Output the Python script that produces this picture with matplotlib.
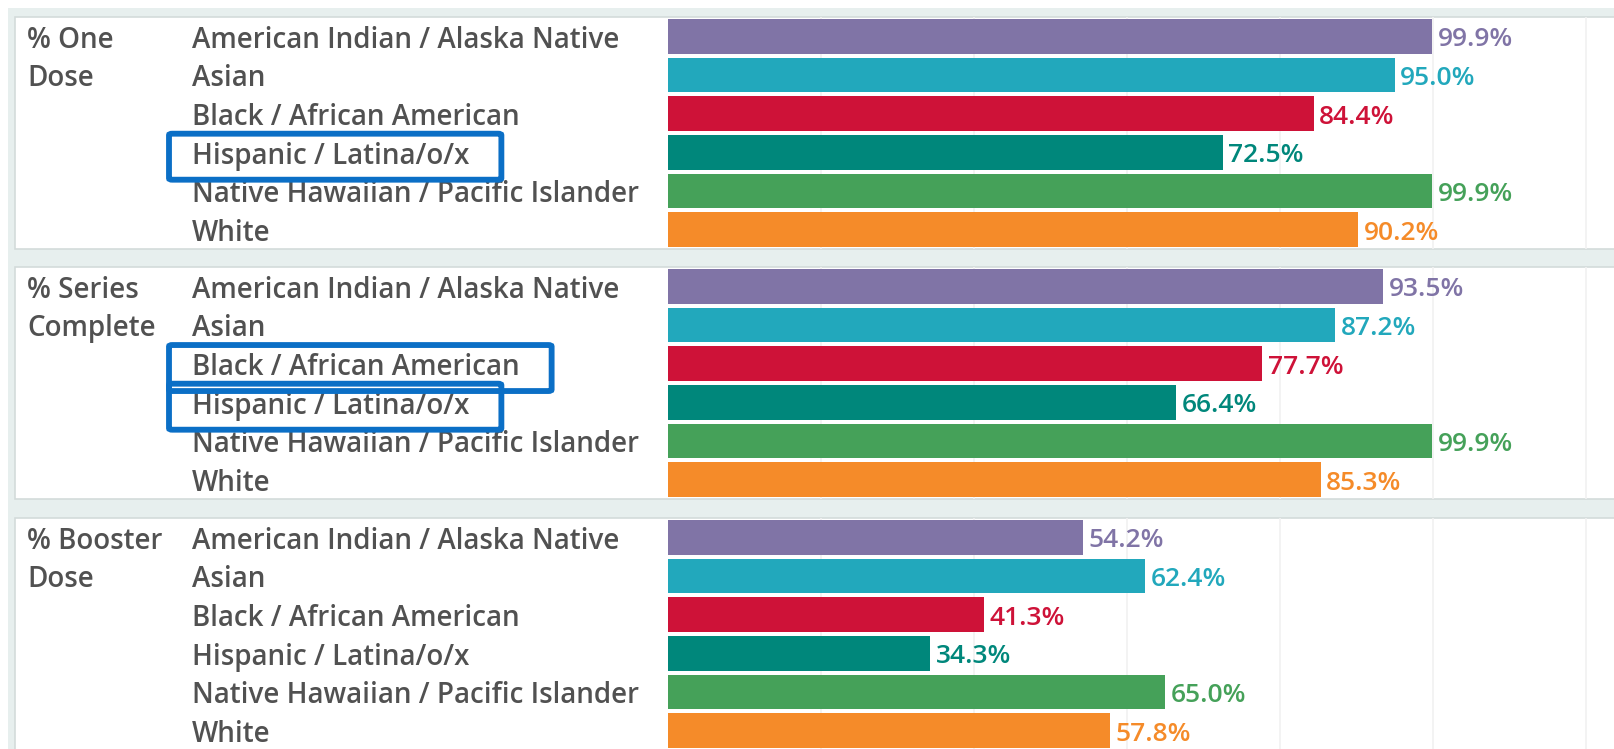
import matplotlib
matplotlib.use('Agg')
import matplotlib.pyplot as plt
from matplotlib.patches import Rectangle, FancyBboxPatch
from matplotlib import transforms

# data
groups = [['% One', 'Dose'], ['% Series', 'Complete'], ['% Booster', 'Dose']]
races = ['American Indian / Alaska Native', 'Asian', 'Black / African American',
         'Hispanic / Latina/o/x', 'Native Hawaiian / Pacific Islander', 'White']
one_dose = [99.9, 95.0, 84.4, 72.5, 99.9, 90.2]
series_complete = [93.5, 87.2, 77.7, 66.4, 99.9, 85.3]
booster_dose = [54.2, 62.4, 41.3, 34.3, 65.0, 57.8]
race_colors = ['#8074a6', '#22a8bc', '#ce1238', '#00877b', '#45a159', '#f58b29']
# rows that were highlighted with a blue box in each group
boxed = [[3], [2, 3], []]

W, H = 1615, 749
panel_tops = [17, 267, 518]
panel_h = 232
bar_left = 668
label_x = 192
header_x = 27

text_col = '#515151'
grey_bg = '#e7efee'
edge_col = '#d3dbda'
box_col = '#0b6fc6'

plt.rcParams['font.family'] = ['Open Sans', 'DejaVu Sans']


def px(x0, top, x1, bottom):
    # pixel box (y measured from the top) -> figure fraction rect
    return [x0 / W, 1 - bottom / H, (x1 - x0) / W, (bottom - top) / H]


fig = plt.figure(figsize=(W / 100, H / 100), dpi=100)
fig.patch.set_facecolor('white')

# grey frame behind the white cards
r = px(8, 8, W, H)
fig.add_artist(Rectangle((r[0], r[1]), r[2], r[3], transform=fig.transFigure,
                         facecolor=grey_bg, edgecolor='none', zorder=-3))

values = [one_dose, series_complete, booster_dose]
axes = []
for p, (top, vals) in enumerate(zip(panel_tops, values)):
    c = px(15, top, W + 5, top + panel_h)
    fig.add_artist(Rectangle((c[0], c[1]), c[2], c[3], transform=fig.transFigure,
                             facecolor='white', edgecolor=edge_col, lw=1.2, zorder=-2))

    ax = fig.add_axes(px(bar_left, top, W, top + panel_h))
    ax.set_facecolor('none')
    ypos = list(range(len(races)))
    ax.barh(ypos, vals, height=0.9, color=race_colors, zorder=2)
    ax.set_ylim(len(races) - 0.5, -0.5)
    ax.set_xlim(0, (W - bar_left) / 7.65)
    ax.set_xticks([20, 40, 60, 80, 100, 120])
    ax.grid(axis='x', color='#f1f1f1', lw=1.2, zorder=0)
    ax.tick_params(length=0, labelbottom=False, labelleft=False)
    for s in ax.spines.values():
        s.set_visible(False)

    for y, v, col in zip(ypos, vals, race_colors):
        ax.annotate(f'{v:.1f}%', (v, y), xytext=(4, -2.5), textcoords='offset points',
                    va='center', ha='left', fontsize=19, color=col, fontweight='semibold')

    trans = transforms.blended_transform_factory(fig.transFigure, ax.transData)
    for y, name in enumerate(races):
        ax.text(label_x / W, y + 0.1, name, transform=trans, va='center', ha='left',
                fontsize=20, color=text_col, fontweight='semibold')
    for y, line in enumerate(groups[p]):
        ax.text(header_x / W, y + 0.1, line, transform=trans, va='center', ha='left',
                fontsize=20, color=text_col, fontweight='semibold')
    axes.append(ax)

# blue highlight boxes around some of the labels
fig.canvas.draw()
renderer = fig.canvas.get_renderer()
inv = fig.transFigure.inverted()
for ax, rows in zip(axes, boxed):
    for row in rows:
        t = [t for t in ax.texts if t.get_text() == races[row]][0]
        bb = t.get_window_extent(renderer)
        x0, x1 = bb.x0 - 23, bb.x1 + 32
        y0, y1 = bb.y0 - 9, bb.y1 + 8
        (fx0, fy0), (fx1, fy1) = inv.transform([(x0, y0), (x1, y1)])
        fig.add_artist(FancyBboxPatch((fx0, fy0), fx1 - fx0, fy1 - fy0,
                                      boxstyle='round,pad=0,rounding_size=0.002',
                                      transform=fig.transFigure, facecolor='none',
                                      edgecolor=box_col, lw=4.2, zorder=5))

fig.savefig('out.png', dpi=100)
